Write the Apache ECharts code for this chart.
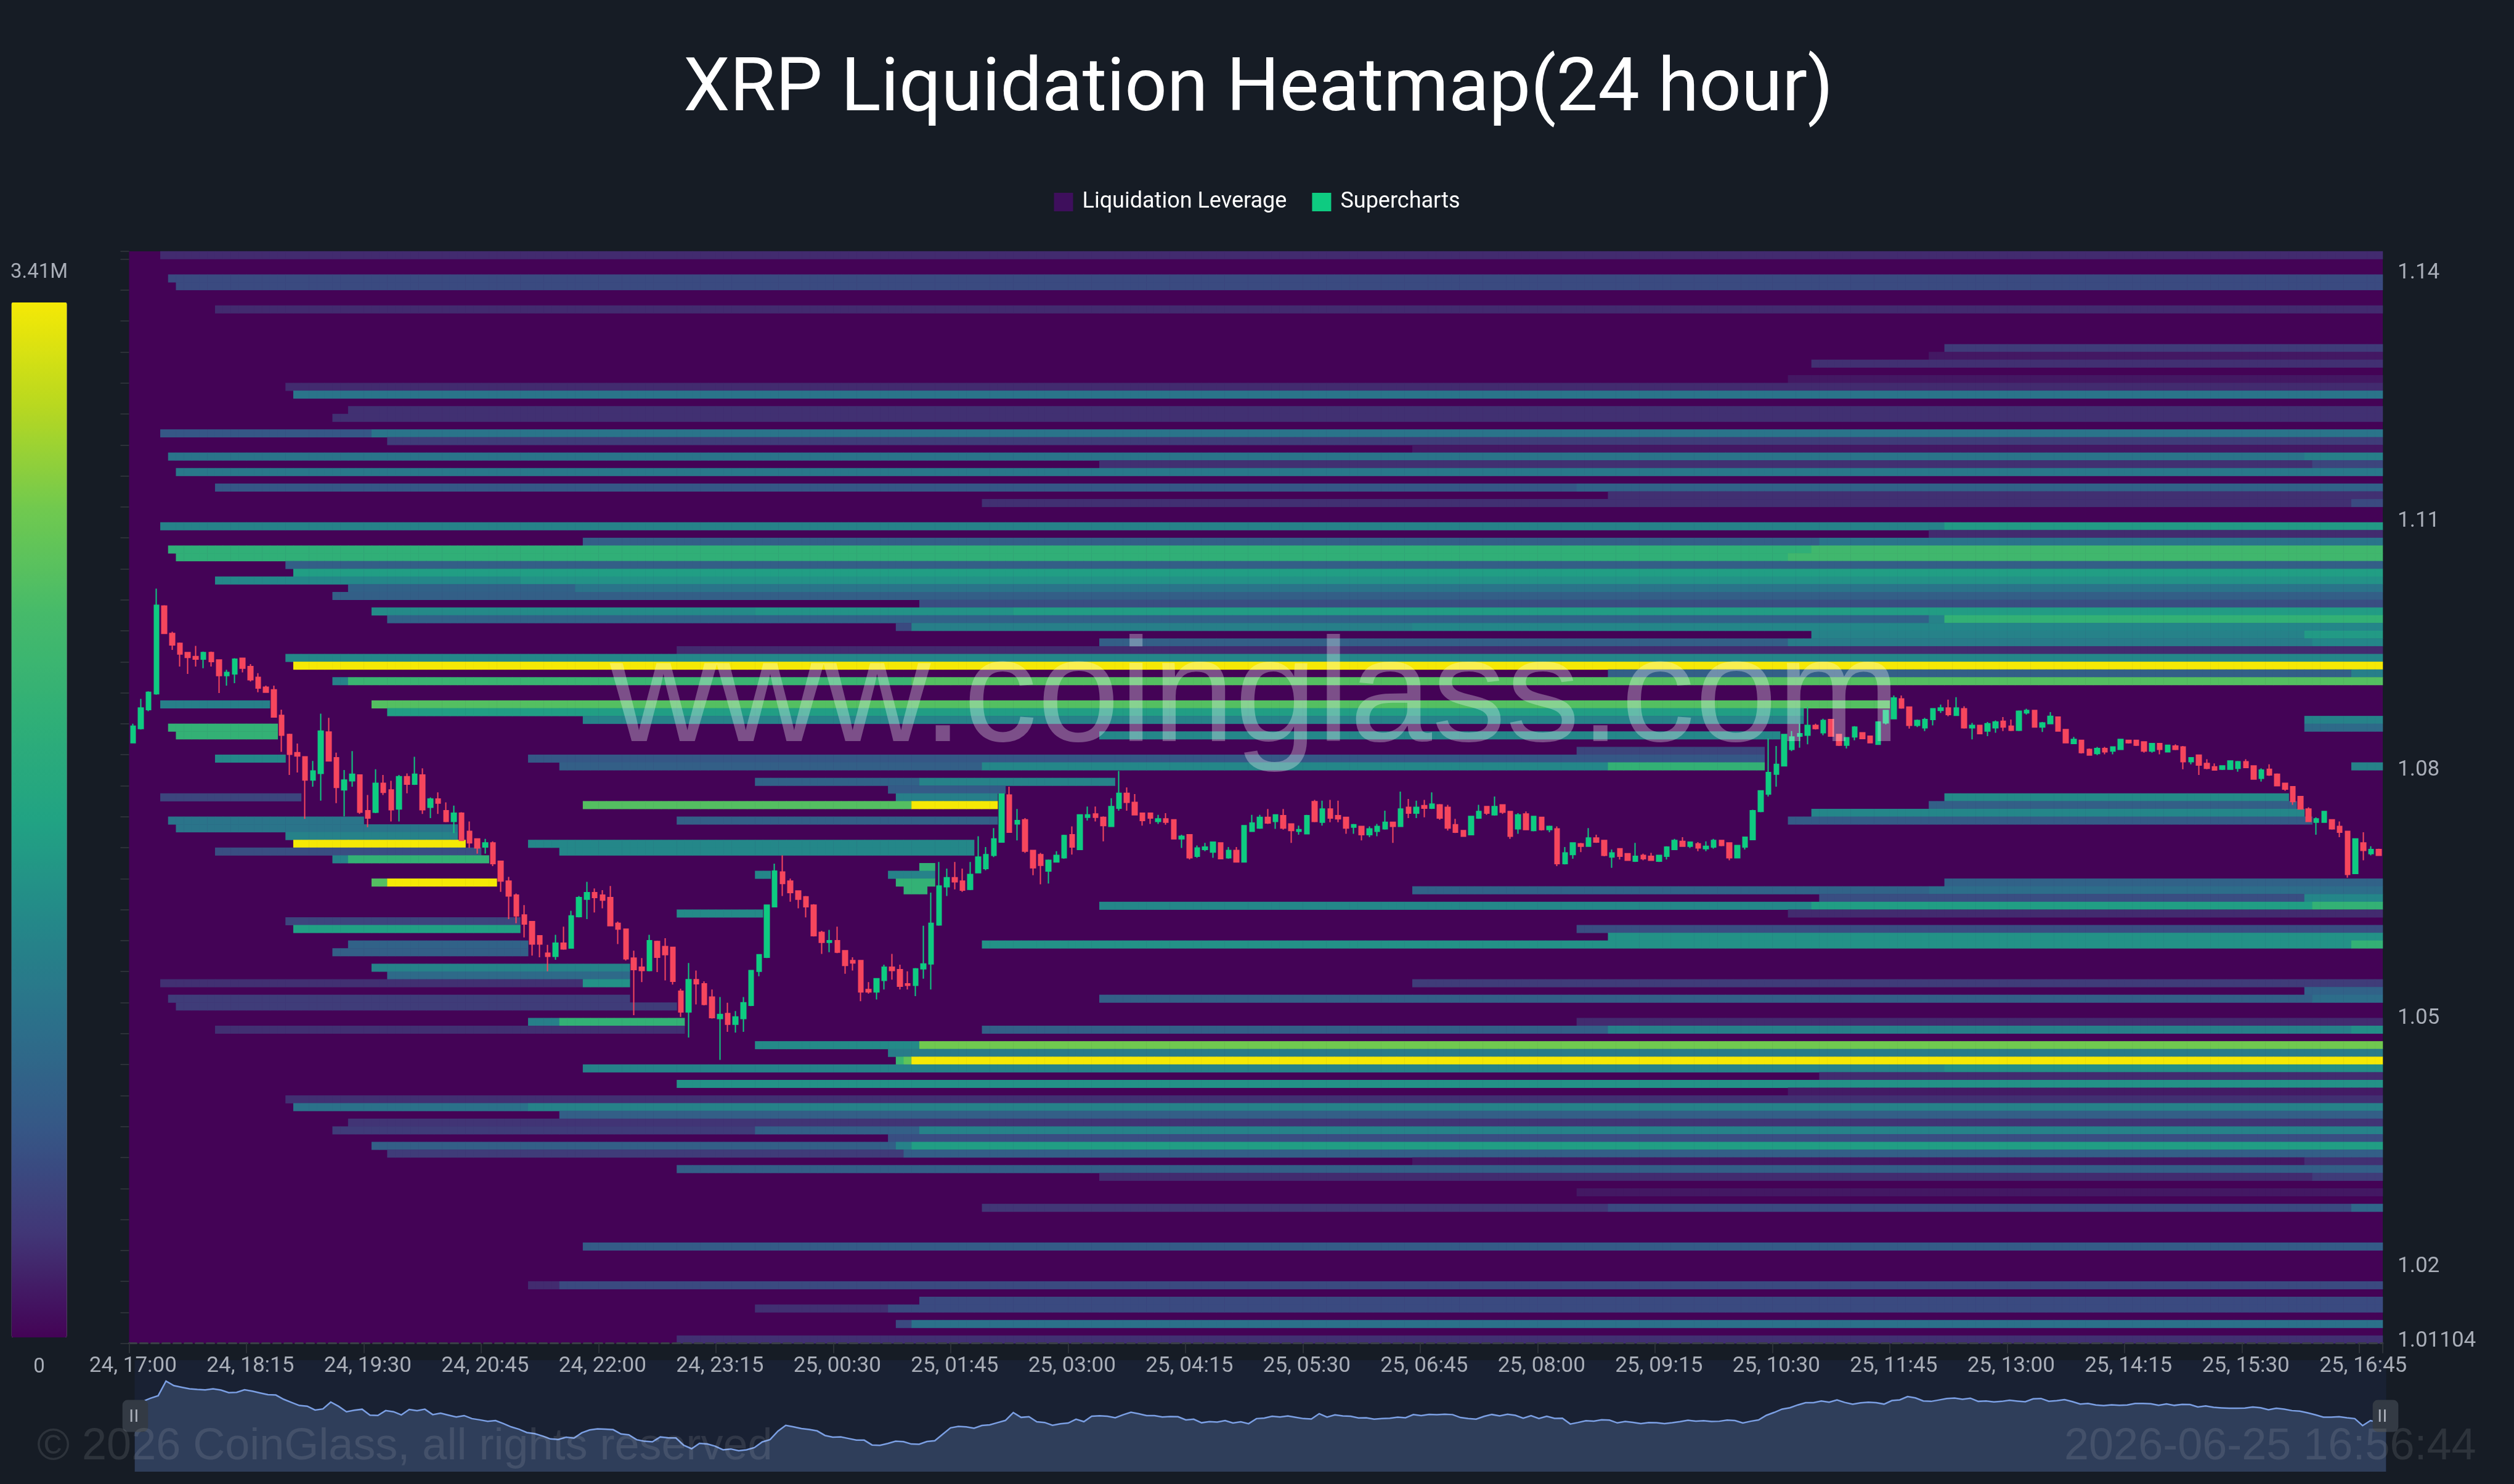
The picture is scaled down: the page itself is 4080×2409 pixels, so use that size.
<!DOCTYPE html>
<html><head><meta charset="utf-8">
<style>html,body{margin:0;padding:0;background:#161c25}#c{width:4080px;height:2409px}</style>
<script src="https://cdn.jsdelivr.net/npm/echarts@6/dist/echarts.min.js"></script>
</head><body><div id="c"></div>
<script>
const titleText = 'XRP Liquidation Heatmap(24 hour)';
const priceTicks = [1.01104, 1.02, 1.05, 1.08, 1.11, 1.14];
const colorStops = ['#440356','#413676','#365686','#2c6f8a','#248789','#21a383','#30af77','#46ba6a','#70c94f','#b8d820','#f5e905'];
const rowCount = 141, colCount = 288, maxLeverage = 3.41;

const opens = [1.0833,1.0850,1.0873,1.0892,1.0998,1.0965,1.0953,1.0942,1.0937,1.0934,1.0942,1.0933,
1.0914,1.0916,1.0935,1.0925,1.0912,1.0900,1.0897,1.0866,1.0843,1.0821,1.0816,1.0788,
1.0796,1.0846,1.0815,1.0776,1.0787,1.0794,1.0751,1.0749,1.0784,1.0776,1.0753,1.0792,
1.0783,1.0794,1.0755,1.0765,1.0751,1.0738,1.0748,1.0726,1.0717,1.0707,1.0712,1.0690,
1.0666,1.0649,1.0625,1.0617,1.0600,1.0579,1.0575,1.0591,1.0585,1.0623,1.0644,1.0652,
1.0649,1.0646,1.0615,1.0608,1.0573,1.0562,1.0558,1.0593,1.0587,1.0586,1.0533,1.0508,
1.0547,1.0542,1.0526,1.0500,1.0506,1.0493,1.0500,1.0516,1.0557,1.0574,1.0635,1.0677,
1.0666,1.0654,1.0647,1.0637,1.0604,1.0592,1.0594,1.0582,1.0570,1.0570,1.0535,1.0532,
1.0546,1.0562,1.0559,1.0542,1.0540,1.0560,1.0566,1.0613,1.0659,1.0670,1.0666,1.0656,
1.0676,1.0681,1.0697,1.0713,1.0770,1.0735,1.0740,1.0703,1.0698,1.0678,1.0689,1.0694,
1.0722,1.0704,1.0743,1.0747,1.0743,1.0732,1.0754,1.0772,1.0761,1.0748,1.0748,1.0738,
1.0741,1.0740,1.0717,1.0722,1.0696,1.0704,1.0701,1.0712,1.0694,1.0703,1.0689,1.0726,
1.0730,1.0743,1.0738,1.0745,1.0735,1.0726,1.0723,1.0762,1.0737,1.0753,1.0745,1.0743,
1.0731,1.0732,1.0722,1.0726,1.0729,1.0737,1.0732,1.0755,1.0748,1.0757,1.0754,1.0758,
1.0755,1.0734,1.0727,1.0722,1.0742,1.0756,1.0746,1.0758,1.0750,1.0729,1.0747,1.0727,
1.0743,1.0728,1.0729,1.0687,1.0698,1.0711,1.0708,1.0718,1.0715,1.0695,1.0705,1.0699,
1.0690,1.0697,1.0696,1.0690,1.0696,1.0704,1.0714,1.0708,1.0711,1.0705,1.0707,1.0715,
1.0712,1.0694,1.0707,1.0716,1.0750,1.0771,1.0795,1.0805,1.0825,1.0841,1.0842,1.0854,
1.0845,1.0861,1.0843,1.0830,1.0840,1.0845,1.0841,1.0831,1.0857,1.0862,1.0886,1.0876,
1.0854,1.0851,1.0861,1.0872,1.0875,1.0866,1.0874,1.0851,1.0854,1.0847,1.0851,1.0859,
1.0853,1.0848,1.0869,1.0872,1.0852,1.0856,1.0864,1.0849,1.0832,1.0836,1.0825,1.0820,
1.0826,1.0823,1.0825,1.0836,1.0836,1.0834,1.0823,1.0832,1.0822,1.0829,1.0828,1.0810,
1.0818,1.0808,1.0804,1.0801,1.0801,1.0802,1.0810,1.0805,1.0790,1.0801,1.0795,1.0784,
1.0780,1.0768,1.0753,1.0737,1.0737,1.0740,1.0732,1.0726,1.0675,1.0712,1.0699,1.0704];

const highs = [1.0856,1.0886,1.0895,1.1019,1.0999,1.0967,1.0954,1.0942,1.0950,1.0943,1.0943,1.0933,
1.0921,1.0935,1.0935,1.0928,1.0917,1.0902,1.0902,1.0873,1.0844,1.0832,1.0816,1.0811,
1.0868,1.0863,1.0821,1.0800,1.0823,1.0794,1.0770,1.0801,1.0794,1.0787,1.0794,1.0796,
1.0816,1.0802,1.0767,1.0773,1.0761,1.0757,1.0749,1.0738,1.0717,1.0717,1.0714,1.0690,
1.0671,1.0651,1.0637,1.0617,1.0600,1.0589,1.0601,1.0611,1.0630,1.0648,1.0665,1.0657,
1.0655,1.0660,1.0617,1.0608,1.0582,1.0573,1.0601,1.0594,1.0597,1.0586,1.0536,1.0567,
1.0558,1.0545,1.0535,1.0526,1.0519,1.0509,1.0526,1.0558,1.0577,1.0637,1.0687,1.0697,
1.0669,1.0654,1.0648,1.0638,1.0606,1.0607,1.0611,1.0582,1.0574,1.0570,1.0544,1.0548,
1.0565,1.0578,1.0565,1.0557,1.0561,1.0612,1.0652,1.0689,1.0681,1.0689,1.0681,1.0689,
1.0720,1.0707,1.0730,1.0771,1.0780,1.0753,1.0742,1.0703,1.0700,1.0692,1.0702,1.0722,
1.0732,1.0746,1.0756,1.0756,1.0744,1.0766,1.0799,1.0779,1.0771,1.0748,1.0748,1.0746,
1.0748,1.0740,1.0722,1.0722,1.0709,1.0712,1.0713,1.0712,1.0707,1.0707,1.0733,1.0746,
1.0746,1.0753,1.0746,1.0753,1.0735,1.0733,1.0746,1.0764,1.0763,1.0764,1.0763,1.0743,
1.0735,1.0732,1.0732,1.0735,1.0751,1.0737,1.0774,1.0765,1.0763,1.0764,1.0773,1.0759,
1.0758,1.0741,1.0727,1.0744,1.0758,1.0756,1.0768,1.0758,1.0750,1.0748,1.0750,1.0744,
1.0743,1.0733,1.0732,1.0707,1.0712,1.0712,1.0730,1.0722,1.0715,1.0704,1.0705,1.0699,
1.0712,1.0699,1.0700,1.0697,1.0708,1.0717,1.0719,1.0713,1.0713,1.0714,1.0717,1.0715,
1.0712,1.0709,1.0719,1.0752,1.0775,1.0838,1.0829,1.0843,1.0847,1.0856,1.0876,1.0856,
1.0862,1.0861,1.0843,1.0839,1.0853,1.0845,1.0841,1.0858,1.0872,1.0890,1.0890,1.0876,
1.0861,1.0863,1.0874,1.0879,1.0885,1.0888,1.0877,1.0857,1.0854,1.0858,1.0860,1.0864,
1.0861,1.0872,1.0874,1.0872,1.0858,1.0870,1.0864,1.0849,1.0840,1.0836,1.0826,1.0828,
1.0828,1.0828,1.0837,1.0836,1.0836,1.0834,1.0832,1.0832,1.0830,1.0831,1.0829,1.0815,
1.0818,1.0813,1.0808,1.0805,1.0811,1.0811,1.0813,1.0805,1.0802,1.0807,1.0796,1.0784,
1.0780,1.0768,1.0755,1.0743,1.0750,1.0740,1.0738,1.0726,1.0717,1.0725,1.0708,1.0705];

const lows = [1.0833,1.0849,1.0871,1.0891,1.0965,1.0945,1.0925,1.0916,1.0925,1.0923,1.0925,1.0893,
1.0902,1.0905,1.0918,1.0907,1.0894,1.0894,1.0864,1.0822,1.0794,1.0797,1.0741,1.0780,
1.0763,1.0811,1.0760,1.0744,1.0780,1.0747,1.0731,1.0748,1.0770,1.0738,1.0738,1.0772,
1.0782,1.0747,1.0742,1.0747,1.0737,1.0724,1.0715,1.0706,1.0699,1.0699,1.0684,1.0653,
1.0620,1.0615,1.0598,1.0576,1.0574,1.0557,1.0571,1.0583,1.0585,1.0622,1.0620,1.0628,
1.0633,1.0612,1.0590,1.0570,1.0504,1.0544,1.0557,1.0556,1.0546,1.0541,1.0502,1.0477,
1.0517,1.0516,1.0500,1.0450,1.0484,1.0483,1.0484,1.0515,1.0551,1.0573,1.0635,1.0648,
1.0641,1.0633,1.0622,1.0599,1.0578,1.0580,1.0579,1.0554,1.0558,1.0521,1.0530,1.0523,
1.0535,1.0547,1.0535,1.0535,1.0527,1.0548,1.0535,1.0612,1.0648,1.0656,1.0653,1.0655,
1.0676,1.0679,1.0695,1.0713,1.0725,1.0715,1.0700,1.0673,1.0662,1.0663,1.0689,1.0693,
1.0698,1.0704,1.0739,1.0738,1.0714,1.0732,1.0751,1.0751,1.0746,1.0733,1.0735,1.0735,
1.0734,1.0717,1.0706,1.0692,1.0694,1.0702,1.0694,1.0693,1.0693,1.0689,1.0689,1.0726,
1.0729,1.0735,1.0729,1.0728,1.0712,1.0722,1.0723,1.0737,1.0733,1.0737,1.0737,1.0723,
1.0723,1.0715,1.0719,1.0720,1.0728,1.0712,1.0732,1.0742,1.0742,1.0743,1.0753,1.0740,
1.0727,1.0724,1.0720,1.0722,1.0741,1.0746,1.0745,1.0747,1.0717,1.0723,1.0728,1.0726,
1.0727,1.0725,1.0684,1.0686,1.0693,1.0701,1.0708,1.0712,1.0696,1.0682,1.0692,1.0691,
1.0689,1.0691,1.0691,1.0689,1.0692,1.0704,1.0708,1.0706,1.0702,1.0702,1.0705,1.0708,
1.0691,1.0694,1.0704,1.0716,1.0749,1.0768,1.0780,1.0805,1.0823,1.0827,1.0831,1.0849,
1.0842,1.0841,1.0829,1.0826,1.0836,1.0838,1.0833,1.0831,1.0855,1.0862,1.0874,1.0850,
1.0852,1.0847,1.0854,1.0869,1.0865,1.0866,1.0850,1.0837,1.0844,1.0841,1.0845,1.0847,
1.0847,1.0847,1.0867,1.0852,1.0846,1.0856,1.0847,1.0833,1.0832,1.0820,1.0818,1.0818,
1.0819,1.0819,1.0825,1.0832,1.0829,1.0821,1.0821,1.0819,1.0822,1.0824,1.0801,1.0807,
1.0794,1.0801,1.0800,1.0800,1.0801,1.0798,1.0803,1.0789,1.0786,1.0793,1.0781,1.0775,
1.0758,1.0753,1.0738,1.0722,1.0737,1.0728,1.0719,1.0670,1.0675,1.0691,1.0697,1.0697];

const closes = [1.0853,1.0875,1.0894,1.0999,1.0965,1.0951,1.0940,1.0936,1.0934,1.0942,1.0931,1.0914,
1.0918,1.0934,1.0923,1.0909,1.0899,1.0894,1.0864,1.0842,1.0819,1.0817,1.0788,1.0799,
1.0847,1.0811,1.0779,1.0788,1.0795,1.0749,1.0742,1.0784,1.0773,1.0752,1.0792,1.0783,
1.0795,1.0752,1.0765,1.0760,1.0738,1.0748,1.0715,1.0712,1.0706,1.0712,1.0687,1.0666,
1.0648,1.0624,1.0614,1.0590,1.0590,1.0575,1.0591,1.0584,1.0624,1.0646,1.0652,1.0646,
1.0643,1.0612,1.0608,1.0572,1.0559,1.0558,1.0594,1.0574,1.0577,1.0545,1.0508,1.0547,
1.0542,1.0517,1.0501,1.0505,1.0493,1.0502,1.0519,1.0558,1.0577,1.0637,1.0678,1.0663,
1.0652,1.0644,1.0635,1.0600,1.0592,1.0594,1.0580,1.0564,1.0567,1.0532,1.0532,1.0548,
1.0562,1.0558,1.0539,1.0540,1.0560,1.0566,1.0615,1.0660,1.0670,1.0665,1.0655,1.0674,
1.0695,1.0698,1.0717,1.0771,1.0725,1.0739,1.0702,1.0682,1.0685,1.0691,1.0697,1.0721,
1.0707,1.0746,1.0746,1.0743,1.0733,1.0756,1.0772,1.0761,1.0746,1.0739,1.0742,1.0741,
1.0737,1.0717,1.0720,1.0694,1.0706,1.0707,1.0713,1.0693,1.0703,1.0689,1.0733,1.0736,
1.0743,1.0736,1.0746,1.0730,1.0727,1.0728,1.0745,1.0738,1.0753,1.0742,1.0741,1.0730,
1.0734,1.0722,1.0729,1.0732,1.0737,1.0732,1.0753,1.0748,1.0755,1.0754,1.0759,1.0742,
1.0730,1.0725,1.0720,1.0744,1.0750,1.0748,1.0756,1.0749,1.0720,1.0746,1.0728,1.0744,
1.0728,1.0732,1.0687,1.0700,1.0712,1.0708,1.0718,1.0713,1.0697,1.0700,1.0696,1.0691,
1.0696,1.0693,1.0691,1.0697,1.0707,1.0715,1.0708,1.0713,1.0706,1.0708,1.0715,1.0709,
1.0694,1.0709,1.0719,1.0751,1.0775,1.0797,1.0807,1.0843,1.0840,1.0844,1.0854,1.0850,
1.0860,1.0841,1.0830,1.0839,1.0852,1.0838,1.0833,1.0858,1.0872,1.0887,1.0875,1.0854,
1.0860,1.0861,1.0874,1.0875,1.0867,1.0875,1.0851,1.0854,1.0844,1.0856,1.0858,1.0852,
1.0848,1.0871,1.0872,1.0852,1.0857,1.0865,1.0847,1.0833,1.0837,1.0821,1.0818,1.0826,
1.0822,1.0828,1.0837,1.0833,1.0830,1.0823,1.0832,1.0825,1.0830,1.0825,1.0810,1.0815,
1.0806,1.0802,1.0800,1.0805,1.0811,1.0810,1.0803,1.0789,1.0800,1.0794,1.0781,1.0777,
1.0762,1.0753,1.0738,1.0741,1.0750,1.0729,1.0725,1.0674,1.0717,1.0703,1.0704,1.0697];

// [row from top, first column, end column, value in millions]
const bandsTop = [
[0,4,288,.27],[3,5,288,.55],[4,6,288,.55],[7,11,288,.27],[12,232,288,.4],[13,230,288,.14],[14,215,288,.3],[16,212,288,.14],
[17,20,288,.27],[18,21,288,1.1],[20,28,288,.3],[21,26,288,.3],[23,4,31,.7],[23,31,288,1.1],[24,33,288,.4],[25,164,288,.14],
[26,5,278,1.1],[26,278,288,1.25],[27,124,279,.3],[27,279,288,.5],[28,6,288,1.15],[30,11,185,.7],[30,185,288,.85],[31,189,288,.3],
[32,109,284,.3],[32,284,288,.55],[35,4,232,1.3],[35,232,288,1.6],[36,230,288,.27],[37,58,216,.8],[37,216,288,1.1],
[38,5,215,2.05],[38,215,288,2.3],[39,6,212,2.05],[39,212,288,2.3],[40,20,288,.8],[41,21,288,1.65],[42,11,50,1.36],[42,50,288,1.5],
[43,28,57,.85],[43,57,288,1.1],[44,26,288,.8],[45,101,288,.6],[46,31,80,1.4],[46,80,113,1.5],[46,113,288,1.62]];
const bandsMiddle = [
[47,33,230,.85],[47,230,232,1.3],[47,232,288,2.1],[48,98,100,.55],[48,100,164,1.25],[48,164,288,1.35],[49,215,278,1.3],[49,278,288,1.6],
[50,124,212,.8],[50,212,279,1.2],[50,279,288,1.35],[51,70,288,.27],[52,20,288,1.36],[53,21,288,3.41],[54,189,284,.8],[54,284,288,1.25],
[55,26,28,1.3],[55,28,100,2.2],[55,100,288,2.5],[58,4,18,1.25],[58,31,225,2.5],[59,33,214,1.65],[60,58,214,1.3],[60,278,288,1.3],
[61,5,19,2.1],[61,278,288,.95],[62,6,19,2.1],[62,124,211,1.36],[64,185,209,.5],[65,11,20,1.36],[65,51,209,.7],
[66,55,109,.8],[66,109,189,1.36],[66,189,209,2.1],[66,284,288,1.3],[68,80,101,.85],[68,101,126,1.3],[69,97,112,.75],
[70,4,22,.5],[70,98,111,1.25],[70,232,276,1.4],[71,58,100,2.5],[71,100,111,3.41],[71,230,277,.8],[72,215,278,1.35],
[73,5,30,1.1],[73,70,111,.8],[73,212,279,.75],[74,6,42,1.1],[75,20,42,1.3],[76,21,43,3.41],[76,51,108,1.36],[77,11,45,.6],[77,55,108,1.36],
[78,26,28,1.3],[78,28,46,2.1],[79,101,103,2.1],[80,80,82,1.35],[80,97,103,1.3],[81,31,33,2.5],[81,33,47,3.41],[81,98,103,2.1],[81,232,288,.85],
[82,99,102,2.1],[82,164,230,.85],[82,230,288,1.0],[83,216,278,.6],[83,278,288,1.35],[84,124,215,1.36],[84,215,279,1.65],[84,279,288,2.1],
[85,70,81,1.4],[85,212,288,.27],[86,20,50,.5],[87,21,50,1.67],[87,185,288,.6],[88,189,288,1.5],[89,28,51,.85],[89,109,284,1.5],[89,284,288,2.1],
[90,26,51,.8],[92,31,64,1.3],[93,33,64,.95]];
const bandsBottom = [
[94,4,58,.3],[94,58,64,1.5],[94,164,288,.4],[95,278,288,.85],[96,5,64,.4],[96,124,279,.8],[96,279,288,1.0],[97,6,70,.4],
[99,51,55,1.25],[99,55,71,2.1],[99,185,288,.27],[100,11,71,.3],[100,109,189,.8],[100,189,284,1.25],[100,284,288,1.45],
[102,80,101,1.4],[102,101,288,2.73],[103,97,288,1.2],[104,98,99,2.2],[104,99,100,2.6],[104,100,288,3.41],[105,58,232,1.3],[105,232,288,1.45],
[106,216,288,.27],[107,70,288,1.5],[108,212,288,.16],[109,20,288,.3],[110,21,51,1.05],[110,51,288,1.3],[111,55,288,.8],[112,28,288,.33],
[113,26,80,.4],[113,80,101,.8],[113,101,288,1.3],[114,97,288,.6],[115,31,98,.8],[115,98,100,1.3],[115,100,288,1.65],[116,33,99,.4],[116,99,288,.8],
[117,164,278,.14],[117,278,288,.3],[118,70,288,.8],[119,124,279,.27],[119,279,288,.4],[121,185,288,.14],[123,109,189,.35],[123,189,284,.55],[123,284,288,.9],
[128,58,288,.75],[133,51,55,.27],[133,55,288,.55],[135,101,288,.55],[136,80,97,.3],[136,97,288,.55],[138,98,100,.55],[138,100,288,1.05],[140,70,288,.3]];

// 5-minute categories from 24, 17:00 to 25, 16:55
const timeLabels = [];
for (let i = 0; i < colCount; i++) {
  const m = 17 * 60 + i * 5, d = m >= 1440 ? 25 : 24, h = Math.floor(m / 60) % 24, mm = m % 60;
  timeLabels.push(d + ', ' + String(h).padStart(2, '0') + ':' + String(mm).padStart(2, '0'));
}
const rowLabels = Array.from({length: rowCount}, (_, i) => String(i));

const cells = new Map();
for (const [row, from, to, value] of [...bandsTop, ...bandsMiddle, ...bandsBottom]) {
  for (let c = from; c < to; c++) cells.set(c + ':' + row, [c, rowCount - 1 - row, value]);
}
const heatData = Array.from(cells.values());
const candleData = opens.map((o, i) => [o, closes[i], lows[i], highs[i]]);

const grey = '#a9aeb8';
const labelFont = 'Roboto,sans-serif';
const chart = echarts.init(document.getElementById('c'), null, {renderer: 'canvas', width: 4080, height: 2409});
chart.setOption({
  animation: false,
  backgroundColor: '#161c25',
  title: {text: titleText, left: 1104, top: 83, textStyle: {color: '#ffffff', fontFamily: 'Roboto', fontWeight: 400, fontSize: 120.5}},
  legend: {
    top: 310, left: 'center', itemWidth: 31, itemHeight: 30, itemGap: 41, padding: 0,
    textStyle: {color: '#ffffff', fontFamily: 'Roboto', fontSize: 36, padding: [0, 0, 0, 10]},
    data: [{name: 'Liquidation Leverage', icon: 'rect', itemStyle: {color: '#3e0f5c'}},
           {name: 'Supercharts', icon: 'rect', itemStyle: {color: '#0ecb81', borderWidth: 0}}]
  },
  grid: {left: 209.5, right: 213, top: 408, bottom: 228.3, show: true, backgroundColor: '#440356', borderWidth: 0},
  xAxis: {
    type: 'category', data: timeLabels, boundaryGap: true, z: 8,
    axisLine: {show: true, lineStyle: {color: '#3a3f46', type: 'dashed', width: 3}},
    axisTick: {show: true, interval: i => i % 15 === 0, length: 16, lineStyle: {color: '#2c3138', width: 2}},
    axisLabel: {interval: i => i % 15 === 0, color: grey, fontFamily: labelFont, fontSize: 35, margin: 20}
  },
  yAxis: [
    {type: 'category', data: rowLabels, position: 'left', boundaryGap: true, axisLine: {show: false},
     axisTick: {show: true, interval: 3, length: 14, lineStyle: {color: '#2c3138', width: 2}}, axisLabel: {show: false}, splitLine: {show: false}},
    {type: 'value', position: 'right', min: 1.01078, max: 1.14263, scale: true, axisLine: {show: false}, axisTick: {show: false}, splitLine: {show: false},
     axisLabel: {customValues: priceTicks, color: grey, fontFamily: labelFont, fontSize: 35, margin: 24, formatter: v => String(v)}}
  ],
  visualMap: {
    type: 'continuous', min: 0, max: maxLeverage, seriesIndex: 0, calculable: false, orient: 'vertical',
    left: 17, top: 426, padding: 0, itemWidth: 90, itemHeight: 1680, textGap: 32,
    text: ['3.41M', '0'], textStyle: {color: grey, fontFamily: labelFont, fontSize: 33},
    inRange: {color: colorStops}
  },
  dataZoom: [{
    type: 'slider', xAxisIndex: 0, start: 0, end: 100, filterMode: 'none', left: 216, right: 210, top: 2208, height: 181,
    backgroundColor: '#192133', borderColor: 'transparent', fillerColor: 'rgba(0,0,0,0)', showDetail: false, brushSelect: false,
    moveHandleSize: 0, handleIcon: 'path://M4 0H16A4 4 0 0 1 20 4V21A4 4 0 0 1 16 25H4A4 4 0 0 1 0 21V4A4 4 0 0 1 4 0Z', handleSize: 52,
    handleStyle: {color: '#333a44', borderWidth: 0},
    dataBackground: {lineStyle: {color: '#7b9fe3', width: 2.5, opacity: 1}, areaStyle: {color: '#2f3e5a', opacity: 1}},
    selectedDataBackground: {lineStyle: {color: '#7b9fe3', width: 2.5, opacity: 1}, areaStyle: {color: '#2f3e5a', opacity: 1}}
  }],
  series: [
    {name: 'Liquidation Leverage', type: 'heatmap', xAxisIndex: 0, yAxisIndex: 0, data: heatData, progressive: 0, emphasis: {disabled: true}, z: 1},
    {name: 'Supercharts', type: 'candlestick', xAxisIndex: 0, yAxisIndex: 1, data: candleData, barWidth: 8, z: 3,
     itemStyle: {color: '#0ecb81', color0: '#f6465d', borderColor: '#0ecb81', borderColor0: '#f6465d', borderWidth: 2}}
  ],
  graphic: [
    {type: 'text', z: 100, left: 990, top: 1017, style: {text: 'www.coinglass.com', fill: 'rgba(255,255,255,0.3)', font: '240px "Liberation Sans"'}},
    {type: 'text', z: 100, left: 60, top: 2313, style: {text: '\u00a9 2026 CoinGlass, all rights reserved', fill: 'rgba(255,255,255,0.1)', font: '72px "Liberation Sans"'}},
    {type: 'text', z: 100, left: 3350, top: 2313, style: {text: '2026-06-25 16:56:44', fill: 'rgba(255,255,255,0.1)', font: '72px "Liberation Sans"'}},
    {type: 'text', z: 100, left: 209, top: 2285, style: {text: 'II', fill: '#a9aeb8', font: '30px "Liberation Sans"'}},
    {type: 'text', z: 100, left: 3858, top: 2285, style: {text: 'II', fill: '#a9aeb8', font: '30px "Liberation Sans"'}}
  ]
});
</script></body></html>
